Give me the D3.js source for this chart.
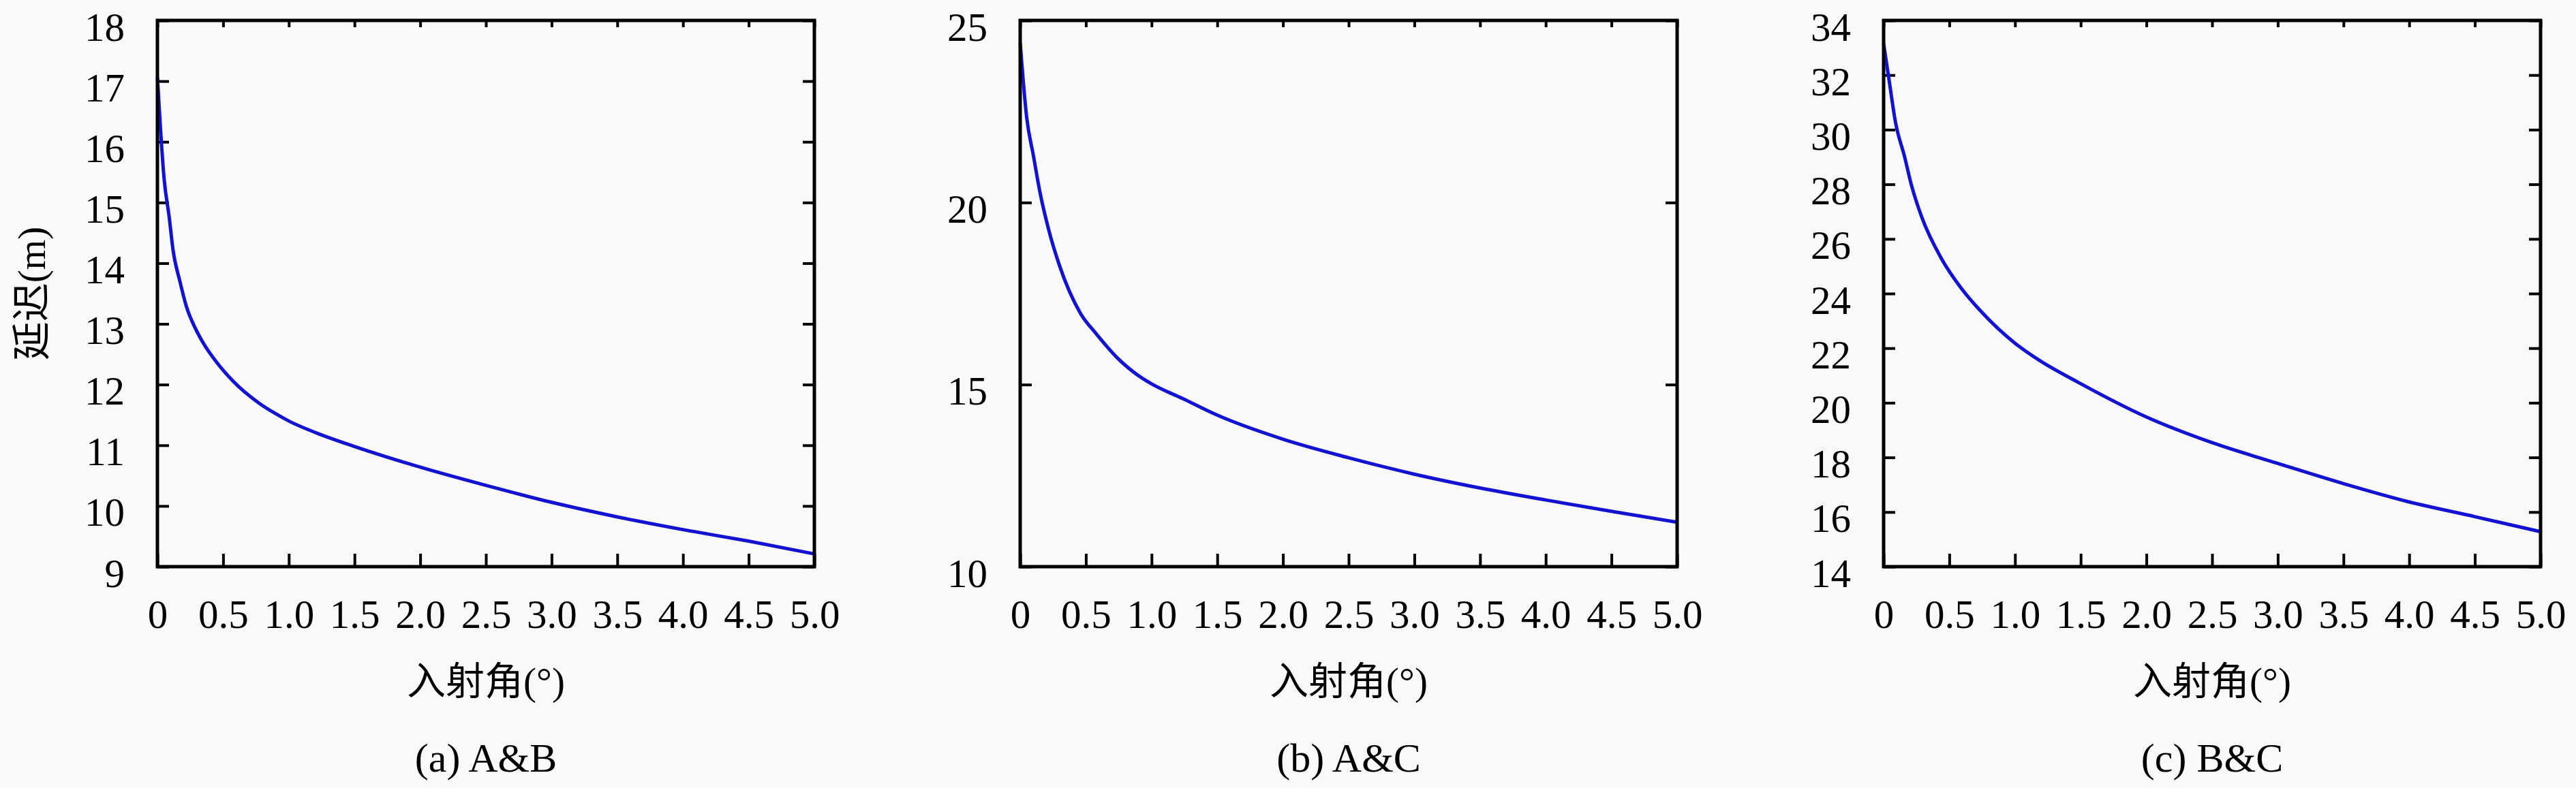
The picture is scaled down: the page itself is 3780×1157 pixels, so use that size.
<!DOCTYPE html>
<html>
<head>
<meta charset="utf-8">
<script src="https://cdn.jsdelivr.net/npm/d3@7"></script>
<style>
  html, body { margin: 0; padding: 0; background: #f9f9f9; }
  svg { display: block; }
  .tick text { font-family: "Liberation Serif", "DejaVu Serif", serif; font-size: 59px; fill: #000; }
  .tick line { stroke: #000; stroke-width: 4; }
  .cap { font-family: "Liberation Serif", "DejaVu Serif", serif; font-size: 60px; }
  .cjk { font-family: "Liberation Serif", "Noto Sans CJK SC", serif; font-size: 57px; }
</style>
</head>
<body>
<svg width="3780" height="1157"></svg>
<script>
// values
var angleAB = [0, 0.02, 0.05, 0.09, 0.12, 0.17, 0.22, 0.29, 0.35, 0.45, 0.57, 0.77, 0.9, 1.0, 1.25, 1.5, 2.0, 2.5, 3.0, 3.5, 4.0, 4.5, 5.0];
var delayAB = [17.06, 16.33, 15.41, 14.75, 14.2, 13.71, 13.29, 12.92, 12.68, 12.37, 12.07, 11.7, 11.52, 11.4, 11.17, 10.98, 10.64, 10.34, 10.06, 9.82, 9.61, 9.42, 9.21];

var angleAC = [0, 0.05, 0.1, 0.15, 0.215, 0.3, 0.46, 0.58, 0.74, 0.91, 1.0, 1.24, 1.5, 2.0, 2.5, 3.0, 3.5, 4.0, 4.5, 5.0];
var delayAC = [24.39, 22.32, 21.3, 20.29, 19.28, 18.26, 16.95, 16.39, 15.73, 15.22, 15.02, 14.61, 14.16, 13.5, 12.99, 12.54, 12.16, 11.83, 11.52, 11.22];

var angleBC = [0, 0.043, 0.09, 0.16, 0.21, 0.29, 0.44, 0.59, 0.75, 1.0, 1.18, 1.5, 2.0, 2.5, 3.0, 3.5, 4.0, 4.5, 5.0];
var delayBC = [33.15, 31.77, 30.28, 29.0, 28.0, 26.8, 25.28, 24.2, 23.3, 22.18, 21.57, 20.7, 19.48, 18.54, 17.78, 17.04, 16.37, 15.83, 15.28];

var xTicks = [0, 0.5, 1.0, 1.5, 2.0, 2.5, 3.0, 3.5, 4.0, 4.5, 5.0];
var yTicksAB = [9, 10, 11, 12, 13, 14, 15, 16, 17, 18];
var yTicksAC = [10, 15, 20, 25];
var yTicksBC = [14, 16, 18, 20, 22, 24, 26, 28, 30, 32, 34];

var captions = ['(a) A&B', '(b) A&C', '(c) B&C'];
var xLabel = '入射角(°)';
var yLabel = '延迟(m)';

var svg = d3.select('svg');
var plotW = 964, plotH = 802, plotTop = 30;
var lefts = [231, 1497, 2764];

var panels = [
  {x: angleAB, y: delayAB, ticks: yTicksAB},
  {x: angleAC, y: delayAC, ticks: yTicksAC},
  {x: angleBC, y: delayBC, ticks: yTicksBC}
];

svg.append('rect').attr('width', 3780).attr('height', 1157).attr('fill', '#f9f9f9');

panels.forEach(function(p, i) {
  var g = svg.append('g').attr('transform', 'translate(' + [lefts[i], plotTop] + ')');

  var xScale = d3.scaleLinear().domain([0, 5]).range([0, plotW]);
  var yScale = d3.scaleLinear()
    .domain([p.ticks[0], p.ticks[p.ticks.length - 1]])
    .range([plotH, 0]);

  var fmt = function(d) { return d === 0 ? '0' : d3.format('.1f')(d); };

  // bottom axis, ticks pointing in
  var bx = g.append('g')
    .attr('transform', 'translate(0,' + plotH + ')')
    .call(d3.axisBottom(xScale).tickValues(xTicks).tickSize(-19).tickFormat(fmt));
  bx.selectAll('text').attr('y', 90).attr('dy', null);

  g.append('g')
    .call(d3.axisTop(xScale).tickValues(xTicks).tickSize(-10).tickFormat(''));

  var ly = g.append('g')
    .call(d3.axisLeft(yScale).tickValues(p.ticks).tickSize(-17).tickFormat(d3.format('d')));
  ly.selectAll('text').attr('x', -48).attr('dy', null).attr('y', 29);

  g.append('g')
    .attr('transform', 'translate(' + plotW + ',0)')
    .call(d3.axisRight(yScale).tickValues(p.ticks).tickSize(-17).tickFormat(''));

  g.selectAll('.domain').remove();

  var line = d3.line()
    .x(function(d) { return xScale(d[0]); })
    .y(function(d) { return yScale(d[1]); })
    .curve(d3.curveMonotoneX);

  g.append('path')
    .datum(d3.zip(p.x, p.y))
    .attr('d', line)
    .attr('fill', 'none')
    .attr('stroke', '#1212d2')
    .attr('stroke-width', 5);

  g.append('rect')
    .attr('width', plotW).attr('height', plotH)
    .attr('fill', 'none').attr('stroke', '#000').attr('stroke-width', 5);

  g.append('text')
    .attr('class', 'cjk')
    .attr('x', plotW / 2).attr('y', 990)
    .attr('text-anchor', 'middle')
    .text(xLabel);

  g.append('text')
    .attr('class', 'cap')
    .attr('x', plotW / 2).attr('y', 1103)
    .attr('text-anchor', 'middle')
    .text(captions[i]);

  if (i === 0) {
    g.append('text')
      .attr('class', 'cjk')
      .attr('transform', 'translate(' + (-165) + ',' + (plotH / 2) + ') rotate(-90)')
      .attr('text-anchor', 'middle')
      .text(yLabel);
  }
});
</script>
</body>
</html>
